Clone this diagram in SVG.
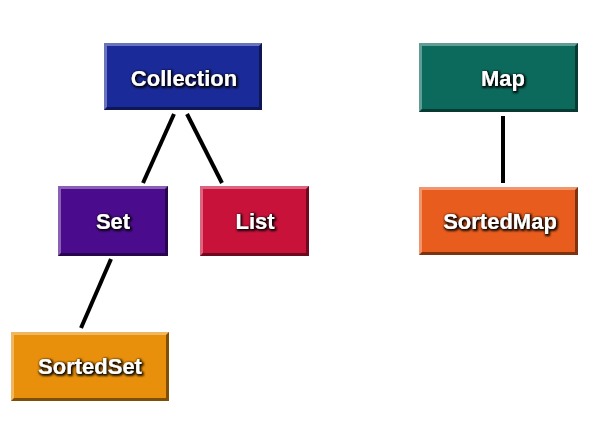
<svg xmlns="http://www.w3.org/2000/svg" width="599" height="423" viewBox="0 0 599 423">
<defs>
<filter id="glow" x="-20%" y="-40%" width="140%" height="180%">
<feMorphology in="SourceAlpha" operator="dilate" radius="1.2" result="d"/>
<feGaussianBlur in="d" stdDeviation="1.3" result="b"/>
<feFlood flood-color="#000" flood-opacity="0.9"/>
<feComposite in2="b" operator="in" result="s"/>
<feOffset dx="1" dy="1" in="s" result="o"/>
<feMerge><feMergeNode in="o"/><feMergeNode in="SourceGraphic"/></feMerge>
</filter>
</defs>
<style>
.lbl{font-family:"Liberation Sans",Arial,sans-serif;font-weight:bold;font-size:22px;fill:#fff;text-anchor:middle;filter:url(#glow)}
.hi{fill:#fff;opacity:0.35}
.sh{fill:#000;opacity:0.45}
.edge{stroke:#000;stroke-width:4;fill:none}
</style>
<rect width="599" height="423" fill="#fff"/>
<g id="connectors">
<line class="edge" x1="174" y1="114" x2="143" y2="183"/>
<line class="edge" x1="187" y1="114" x2="222" y2="183"/>
<line class="edge" x1="111" y1="259" x2="81" y2="328"/>
<line class="edge" x1="503" y1="116" x2="503" y2="183"/>
</g>
<g id="collection">
<rect x="104" y="43" width="158" height="67" fill="#1a2a98"/>
<polygon class="hi" points="104,43 262,43 259,46 107,46 107,107 104,110"/>
<polygon class="sh" points="262,43 262,110 104,110 107,107 259,107 259,46"/>
<text class="lbl" x="184" y="86">Collection</text>
</g>
<g id="set">
<rect x="58" y="186" width="110" height="70" fill="#4a0c8c"/>
<polygon class="hi" points="58,186 168,186 165,189 61,189 61,253 58,256"/>
<polygon class="sh" points="168,186 168,256 58,256 61,253 165,253 165,189"/>
<text class="lbl" x="113" y="229">Set</text>
</g>
<g id="list">
<rect x="200" y="186" width="109" height="70" fill="#c8123a"/>
<polygon class="hi" points="200,186 309,186 306,189 203,189 203,253 200,256"/>
<polygon class="sh" points="309,186 309,256 200,256 203,253 306,253 306,189"/>
<text class="lbl" x="255" y="229">List</text>
</g>
<g id="sortedset">
<rect x="11" y="332" width="158" height="69" fill="#e8900c"/>
<polygon class="hi" points="11,332 169,332 166,335 14,335 14,398 11,401"/>
<polygon class="sh" points="169,332 169,401 11,401 14,398 166,398 166,335"/>
<text class="lbl" x="90" y="374">SortedSet</text>
</g>
<g id="map">
<rect x="419" y="43" width="159" height="69" fill="#0c6a5c"/>
<polygon class="hi" points="419,43 578,43 575,46 422,46 422,109 419,112"/>
<polygon class="sh" points="578,43 578,112 419,112 422,109 575,109 575,46"/>
<text class="lbl" x="503" y="86">Map</text>
</g>
<g id="sortedmap">
<rect x="419" y="187" width="159" height="68" fill="#e85c1e"/>
<polygon class="hi" points="419,187 578,187 575,190 422,190 422,252 419,255"/>
<polygon class="sh" points="578,187 578,255 419,255 422,252 575,252 575,190"/>
<text class="lbl" x="500" y="229">SortedMap</text>
</g>
</svg>
